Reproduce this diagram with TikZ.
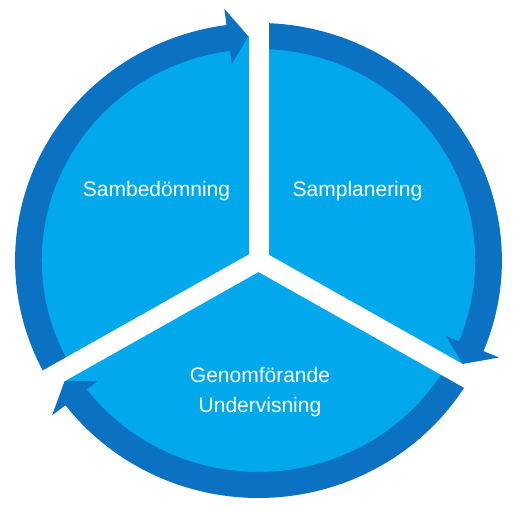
\documentclass[tikz,border=0pt]{standalone}
\usepackage{fontspec}
\setmainfont{Liberation Sans}
\definecolor{ringblue}{HTML}{0B71C3}
\definecolor{fillblue}{HTML}{02A8EC}
\begin{document}
\begin{tikzpicture}[x=1pt,y=1pt,
  segment/.style={fill=ringblue},
  gapline/.style={draw=white,line width=20pt,line cap=butt},
  phase/.style={text=white,font=\fontsize{21}{30}\selectfont,align=center,inner sep=0pt}]
\fill[white] (0,0) rectangle (515,510);
\useasboundingbox (0,0) rectangle (515,510);
\begin{scope}[shift={(258.5,249.5)},xscale=1.025]
  \coordinate (c) at (0,0);
  % light disc
  \fill[fillblue] (c) circle[radius=224.5];
  % segment A (left, ends at top)
  \fill[segment] (209:237.5) arc[start angle=209,end angle=97.55,radius=237.5]
    -- (97.55:254) -- (92.55:224.5) -- (97.55:198) -- (97.55:211.5)
    arc[start angle=97.55,end angle=209,radius=211.5] -- cycle;
  % segment B (right, ends at lower right)
  \fill[segment] (89:237.5) arc[start angle=89,end angle=-22.45,radius=237.5]
    -- (-22.45:254) -- (-27.45:224.5) -- (-22.45:198) -- (-22.45:211.5)
    arc[start angle=-22.45,end angle=89,radius=211.5] -- cycle;
  % segment C (bottom, ends at lower left)
  \fill[segment] (-31:237.5) arc[start angle=-31,end angle=-142.45,radius=237.5]
    -- (-142.45:254) -- (-147.45:224.5) -- (-142.45:198) -- (-142.45:211.5)
    arc[start angle=-142.45,end angle=-31,radius=211.5] -- cycle;
  % white gaps
  \coordinate (g1) at (90:252);
  \coordinate (g2) at (-30:252);
  \coordinate (g3) at (-150:252);
  \draw[gapline] (c) -- (g1);
  \draw[gapline] (c) -- (g2);
  \draw[gapline] (c) -- (g3);
\end{scope}
\node[phase,anchor=base] (samb) at (156.5,313) {Sambedömning};
\node[phase,anchor=base] (sampl) at (357.5,313) {Samplanering};
\node[phase] (genom) at (260,117.5) {Genomförande\\Undervisning};
\end{tikzpicture}
\end{document}
